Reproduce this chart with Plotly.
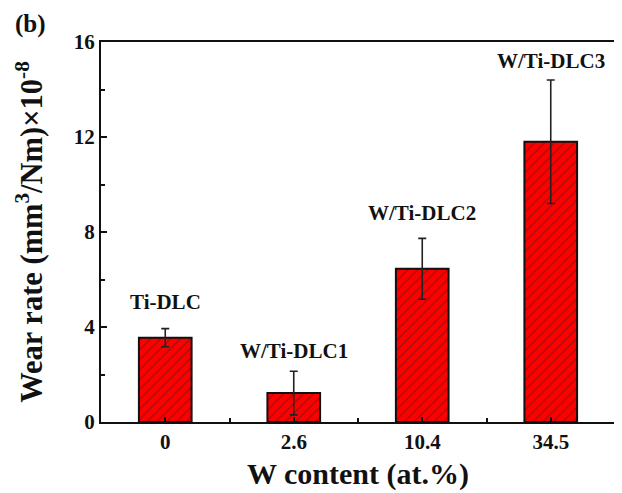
import plotly.graph_objects as go

categories = ["0", "2.6", "10.4", "34.5"]
wear_rate = [3.55, 1.22, 6.45, 11.8]
wear_err = [0.38, 0.92, 1.28, 2.6]
sample_names = ["Ti-DLC", "W/Ti-DLC1", "W/Ti-DLC2", "W/Ti-DLC3"]
label_y = [5.05, 2.98, 8.8, 15.2]
y_ticks = [0, 4, 8, 12, 16]

FONT = "Liberation Serif, Times New Roman, serif"
xpos = list(range(len(categories)))

fig = go.Figure()
fig.add_trace(go.Bar(
    x=xpos, y=wear_rate, width=0.41,
    marker=dict(
        color="#ff0000",
        line=dict(color="#111111", width=2),
        pattern=dict(shape="/", fgcolor="#222222", bgcolor="#ff0000", size=7, solidity=0.17),
    ),
    error_y=dict(type="data", array=wear_err, visible=True, color="#222222", thickness=1.6, width=4),
    showlegend=False,
))

for x, y, t in zip(xpos, label_y, sample_names):
    fig.add_annotation(x=x, y=y, text="<b>%s</b>" % t, showarrow=False,
                       font=dict(family=FONT, size=21, color="#111111"), xanchor="center", yanchor="middle")

fig.add_annotation(xref="paper", yref="paper", x=-0.138, y=1.047, text="<b>(b)</b>", showarrow=False,
                   font=dict(family=FONT, size=25, color="#111111"), xanchor="center", yanchor="middle")

fig.update_layout(
    width=614, height=485,
    margin=dict(l=93, r=7, t=34, b=71, autoexpand=False),
    paper_bgcolor="white", plot_bgcolor="white",
    font=dict(family=FONT, color="#111111"),
    xaxis=dict(
        range=[-0.5, 3.5], tickvals=xpos, ticktext=["<b>%s</b>" % c for c in categories],
        ticks="inside", ticklen=5, tickwidth=1.5, tickcolor="#111111",
        showline=True, linecolor="#111111", linewidth=2, mirror=True,
        showgrid=False, zeroline=False, automargin=False,
        tickfont=dict(family=FONT, size=21, color="#111111"),
        minor=dict(tickvals=[0.5, 1.5, 2.5], ticks="inside", ticklen=4, tickwidth=1.5, tickcolor="#111111"),
        title=dict(text="<b>W content (at.%)</b>", font=dict(family=FONT, size=30, color="#111111"), standoff=10),
    ),
    yaxis=dict(
        range=[0, 16], tickvals=y_ticks, ticktext=["<b>%d</b>" % v for v in y_ticks],
        ticks="inside", ticklen=6, tickwidth=1.5, tickcolor="#111111",
        showline=True, linecolor="#111111", linewidth=2, mirror=True,
        showgrid=False, zeroline=False, automargin=False,
        tickfont=dict(family=FONT, size=21, color="#111111"),
        minor=dict(tickvals=[2, 6, 10, 14], ticks="inside", ticklen=4, tickwidth=1.5, tickcolor="#111111"),
        title=dict(text="<b>Wear rate (mm<sup>3</sup>/Nm)×10<sup>-8</sup></b>",
                   font=dict(family=FONT, size=30.5, color="#111111"), standoff=22),
    ),
)

fig.write_html("out.html")
